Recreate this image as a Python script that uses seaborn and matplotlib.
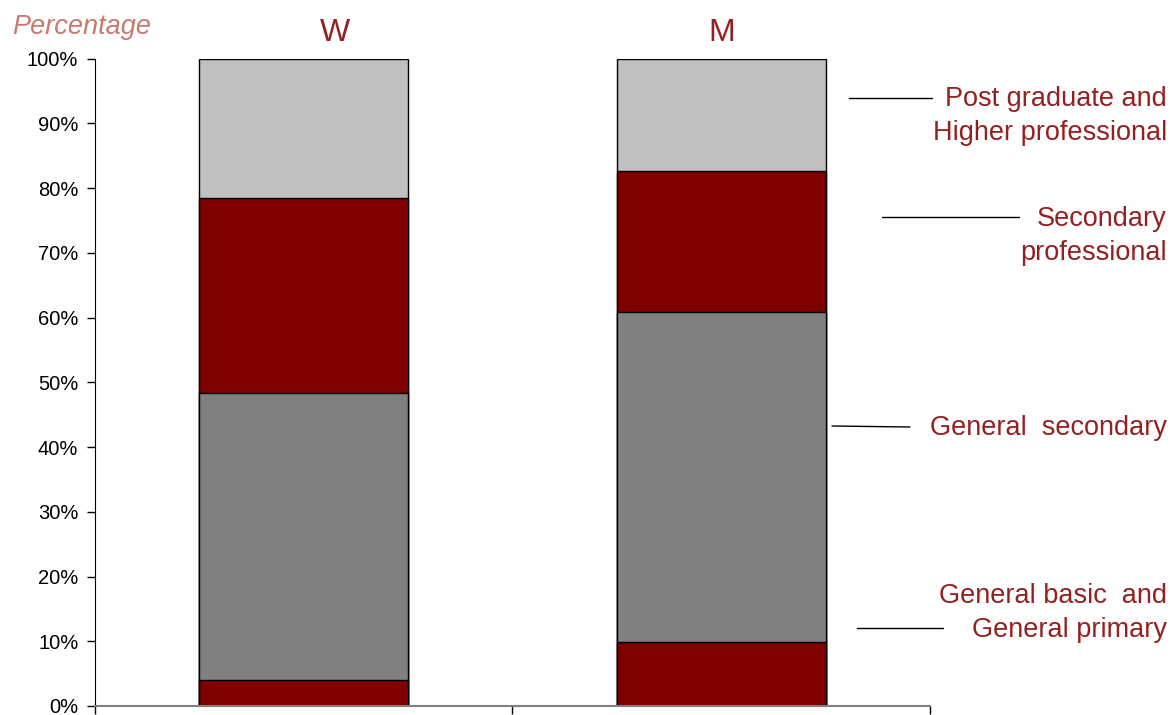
import pandas as pd
import matplotlib.pyplot as plt
import seaborn as sns
from matplotlib.lines import Line2D

# 데이터 (퍼센트, 아래에서 위로 쌓는 순서)
groups = ['W', 'M']
levels = ['General basic and General primary', 'General secondary',
          'Secondary professional', 'Post graduate and Higher professional']
w_values = [4.0, 44.3, 30.1, 21.6]
m_values = [9.9, 50.9, 21.8, 17.4]
level_colors = ['#800000', '#808080', '#800000', '#C0C0C0']
y_ticks = list(range(0, 101, 10))

sns.set_style('white')
plt.rcParams['font.family'] = ['Liberation Sans', 'DejaVu Sans']

df = pd.DataFrame({
    'group': [g for g in groups for _ in levels],
    'level': levels * 2,
    'value': w_values + m_values,
})
df['cum'] = df.groupby('group')['value'].cumsum()

fig = plt.figure(figsize=(11.73, 7.15), dpi=100)
ax = fig.add_axes([0.081, 0.0126, 0.7118, 0.9054])

# 누적 막대: 위쪽 구간부터 그려서 아래 구간이 덮도록
for lvl, col in reversed(list(zip(levels, level_colors))):
    sub = df[df['level'] == lvl]
    sns.barplot(data=sub, x='group', y='cum', order=groups, color=col,
                saturation=1, width=0.5, edgecolor='black', linewidth=1, ax=ax)

ax.set_xlim(-0.5, 1.5)
ax.set_ylim(0, 100)
ax.set_xticks([-0.5, 0.5, 1.5])
ax.set_xticklabels([])
ax.set_yticks(y_ticks)
ax.set_yticklabels([f'{t}%' for t in y_ticks], fontsize=14.5)
ax.tick_params(axis='both', direction='out', length=6, width=1, color='black',
               labelcolor='black', left=True, bottom=True)
ax.tick_params(axis='y', pad=6)
ax.set_xlabel('')
ax.set_ylabel('')
sns.despine(ax=ax, top=True, right=True)
ax.spines['left'].set_color('black')
ax.spines['bottom'].set_color('#808080')
ax.spines['bottom'].set_linewidth(1.5)

# 그룹 제목
title_col = '#952020'
ax.text(0.075, 104.0, 'W', ha='center', va='center', fontsize=23, color=title_col)
ax.text(1.0, 104.0, 'M', ha='center', va='center', fontsize=23, color=title_col)

fig.text(12 / 1173, 1 - 27 / 715, 'Percentage', ha='left', va='center',
         fontsize=19.5, style='italic', color='#C87A6E')

# 범례 라벨과 연결선
W, H = 1173, 715
legend_items = [
    ('Post graduate and\nHigher professional', 116, (849, 932, 98, 98)),
    ('Secondary\nprofessional', 236, (882, 1019, 217, 217)),
    ('General  secondary', 428, (832, 910, 426, 427)),
    ('General basic  and\nGeneral primary', 613, (857, 943, 628, 628)),
]
for label, ty, (x0, x1, y0, y1) in legend_items:
    fig.text(1167 / W, 1 - ty / H, label, ha='right', va='center',
             fontsize=19.5, color=title_col, linespacing=1.42, multialignment='right')
    fig.add_artist(Line2D([x0 / W, x1 / W], [1 - y0 / H, 1 - y1 / H],
                          color='black', linewidth=1))

fig.savefig('out.png', dpi=100)
